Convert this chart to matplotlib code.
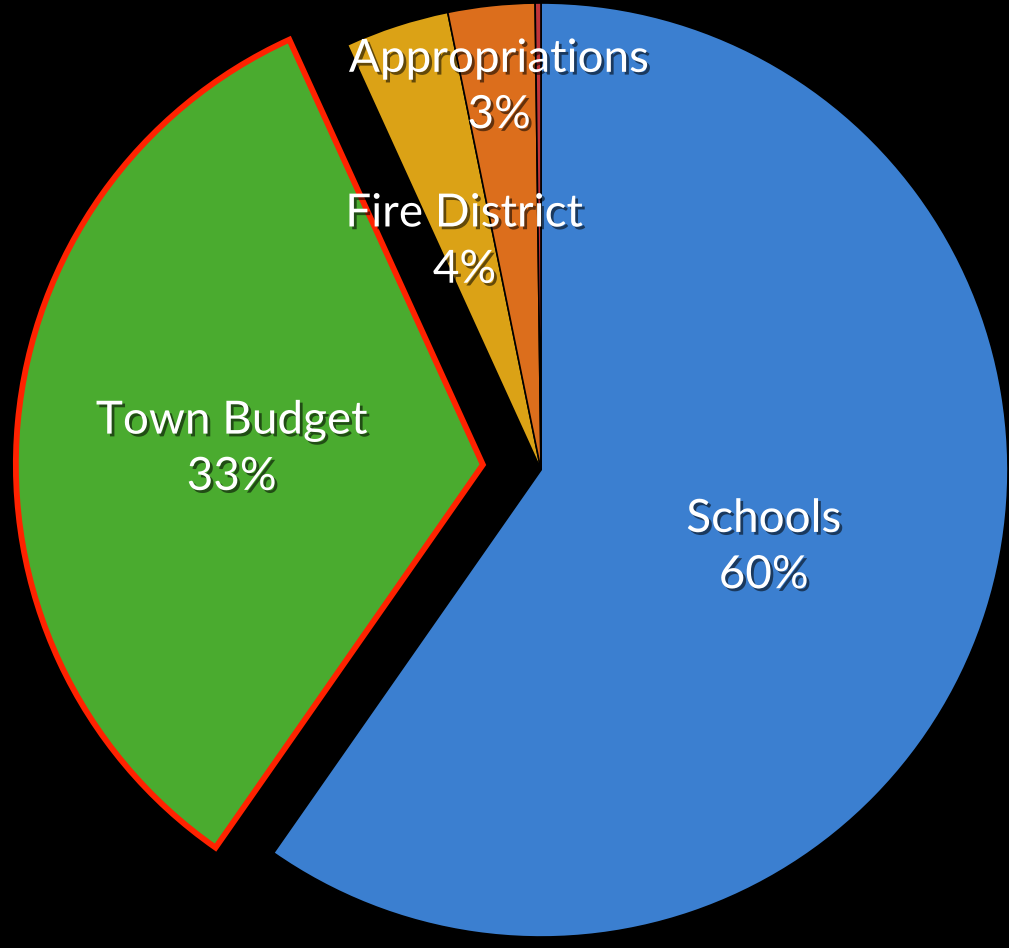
import numpy as np
import matplotlib
matplotlib.use('Agg')
import matplotlib.pyplot as plt
import matplotlib.patheffects as pe

# slices in clockwise order from 12 o'clock
names = ['Schools', 'Town Budget', 'Fire District', 'Appropriations', 'Other']
shares = [59.7, 33.5, 3.6, 3.0, 0.2]
pct_labels = ['60%', '33%', '4%', '3%', '']
colors = ['#3b7fd0', '#4aab2f', '#dba216', '#dc6e1c', '#c0353a']
explode = [0, 0.125, 0, 0, 0]
label_dist = [0.50, 0.665, 0.53, 0.84, 0]

fig = plt.figure(figsize=(10.09, 9.48), dpi=100, facecolor='black')
ax = fig.add_axes([0, 0, 1, 1])
ax.set_facecolor('black')

wedges, _ = ax.pie(shares, colors=colors, explode=explode, startangle=90,
                   counterclock=False, radius=1.0,
                   wedgeprops=dict(edgecolor='black', linewidth=1.2))
# highlighted slice
wedges[1].set_edgecolor('#ff2200')
wedges[1].set_linewidth(4.2)
wedges[1].set_zorder(3)

shadow = [pe.withSimplePatchShadow(offset=(2, -2), shadow_rgbFace='black', alpha=0.55)]
for w, name, pct, d in zip(wedges, names, pct_labels, label_dist):
    if not pct:
        continue
    ang = np.deg2rad((w.theta1 + w.theta2) / 2)
    cx, cy = w.center
    if name == 'Town Budget':
        cx, cy = 0, 0
    x = cx + d * np.cos(ang)
    y = cy + d * np.sin(ang) - 0.015
    ax.text(x, y, name + '\n' + pct, color='white', fontsize=33,
            family=['Lato', 'DejaVu Sans'], ha='center', va='center',
            linespacing=1.42, zorder=5, path_effects=shadow)

ax.set_aspect('equal')
ax.set_xlim(-541 / 467, (1009 - 541) / 467)
ax.set_ylim(-478 / 467, 470 / 467)
ax.axis('off')

fig.savefig('out.png', dpi=100, facecolor='black')
